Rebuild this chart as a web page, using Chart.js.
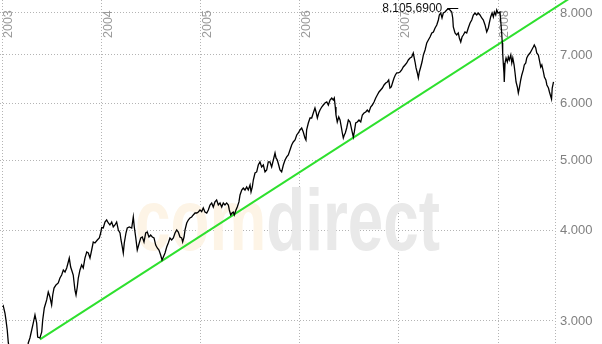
<!DOCTYPE html>
<html>
<head>
<meta charset="utf-8">
<script src="https://cdn.jsdelivr.net/npm/chart.js@4.4.0/dist/chart.umd.min.js"></script>
<style>
  html, body { margin: 0; padding: 0; background: #fff; }
</style>
</head>
<body>
<canvas id="DaxChart" width="602" height="344"></canvas>
<script>
const yearTicks = [2003, 2004, 2005, 2006, 2007, 2008];
const priceTicks = [3000, 4000, 5000, 6000, 7000, 8000];
const xRange = [2002.975, 2008.575];
const yRange = [2788, 8338];

// time = years after 1 Jan 2003, value = index close
const t2003 = [0.002, 0.008, 0.025, 0.035, 0.048, 0.059, 0.076, 0.096, 0.116, 0.136, 0.156, 0.172, 0.187, 0.197, 0.212, 0.227, 0.242, 0.252, 0.260, 0.277, 0.295, 0.311, 0.328, 0.345, 0.355, 0.378, 0.396, 0.406, 0.422, 0.446, 0.462, 0.479, 0.496, 0.507, 0.520, 0.540, 0.563, 0.580, 0.597, 0.614, 0.631, 0.648, 0.664, 0.674, 0.688, 0.698, 0.714, 0.731, 0.742, 0.755, 0.765, 0.782, 0.799, 0.815, 0.832, 0.850, 0.866, 0.883, 0.900, 0.916, 0.933, 0.957, 0.977, 0.991];
const c2003 = [3137, 3147, 3077, 3010, 2915, 2797, 2740, 2700, 2600, 2650, 2550, 2450, 2300, 2220, 2550, 2600, 2450, 2600, 2797, 2842, 2915, 2981, 3058, 2981, 2851, 2842, 2897, 3010, 3127, 3208, 3290, 3238, 3157, 3259, 3332, 3365, 3386, 3440, 3473, 3529, 3507, 3552, 3620, 3666, 3563, 3529, 3473, 3311, 3259, 3343, 3440, 3529, 3586, 3552, 3666, 3737, 3725, 3666, 3761, 3858, 3846, 3883, 3908, 3970];

const t2004 = [1.001, 1.017, 1.034, 1.051, 1.068, 1.084, 1.102, 1.118, 1.135, 1.152, 1.169, 1.186, 1.196, 1.209, 1.219, 1.229, 1.246, 1.259, 1.280, 1.304, 1.320, 1.330, 1.344, 1.360, 1.380, 1.395, 1.411, 1.428, 1.445, 1.461, 1.478, 1.495, 1.512, 1.529, 1.546, 1.562, 1.579, 1.596, 1.610, 1.623, 1.640, 1.657, 1.673, 1.690, 1.707, 1.724, 1.741, 1.758, 1.774, 1.791, 1.808, 1.818, 1.832, 1.842, 1.859, 1.875, 1.892, 1.909, 1.925, 1.943, 1.960, 1.976, 1.993];
const c2004 = [4040, 4034, 4112, 4138, 4099, 4073, 4112, 4047, 4073, 4112, 4009, 3970, 3883, 3797, 3725, 3846, 3970, 4034, 4047, 4034, 4178, 4047, 3920, 3761, 3846, 3908, 3920, 3858, 3970, 3983, 3920, 3945, 3920, 3908, 3821, 3785, 3761, 3702, 3643, 3678, 3725, 3797, 3846, 3908, 3883, 3908, 3970, 4009, 3983, 3920, 3908, 3858, 3920, 4009, 4099, 4138, 4165, 4178, 4205, 4231, 4231, 4245, 4272];

const t2005 = [2.010, 2.026, 2.043, 2.061, 2.077, 2.094, 2.111, 2.127, 2.144, 2.161, 2.178, 2.195, 2.212, 2.228, 2.245, 2.262, 2.279, 2.289, 2.303, 2.316, 2.329, 2.339, 2.356, 2.369, 2.386, 2.397, 2.414, 2.430, 2.447, 2.464, 2.480, 2.498, 2.508, 2.521, 2.531, 2.548, 2.565, 2.581, 2.598, 2.615, 2.632, 2.649, 2.666, 2.682, 2.699, 2.716, 2.733, 2.750, 2.760, 2.773, 2.787, 2.800, 2.817, 2.834, 2.851, 2.868, 2.884, 2.901, 2.918, 2.934, 2.952, 2.969, 2.985];
const c2005 = [4250, 4300, 4245, 4231, 4272, 4341, 4369, 4313, 4383, 4411, 4341, 4369, 4313, 4369, 4341, 4369, 4341, 4272, 4205, 4231, 4245, 4205, 4272, 4313, 4383, 4481, 4553, 4582, 4553, 4597, 4553, 4626, 4524, 4597, 4700, 4806, 4822, 4930, 4978, 4899, 4930, 4822, 4853, 4978, 4978, 4899, 5009, 5122, 5042, 5009, 4930, 4853, 4822, 4930, 5009, 5058, 5090, 5172, 5255, 5305, 5339, 5425, 5459];

const t2006 = [3.002, 3.019, 3.035, 3.052, 3.062, 3.069, 3.086, 3.103, 3.120, 3.136, 3.153, 3.164, 3.177, 3.191, 3.204, 3.221, 3.237, 3.254, 3.272, 3.288, 3.305, 3.322, 3.338, 3.348, 3.358, 3.365, 3.378, 3.393, 3.406, 3.419, 3.429, 3.439, 3.449, 3.459, 3.473, 3.490, 3.507, 3.524, 3.540, 3.550, 3.564, 3.580, 3.597, 3.615, 3.631, 3.648, 3.665, 3.681, 3.698, 3.715, 3.732, 3.749, 3.766, 3.782, 3.799, 3.816, 3.833, 3.850, 3.867, 3.883, 3.897, 3.910, 3.923, 3.938, 3.951, 3.964, 3.978, 3.994];
const c2006 = [5512, 5547, 5477, 5373, 5339, 5512, 5636, 5726, 5726, 5818, 5911, 5837, 5726, 5818, 5874, 5930, 5968, 6007, 6026, 5968, 6064, 6103, 6064, 6103, 5930, 5782, 5654, 5745, 5690, 5564, 5459, 5373, 5425, 5459, 5547, 5690, 5654, 5512, 5390, 5477, 5636, 5654, 5690, 5654, 5782, 5818, 5837, 5874, 5837, 5930, 5968, 6026, 6103, 6161, 6221, 6261, 6300, 6361, 6402, 6422, 6463, 6300, 6321, 6422, 6505, 6567, 6609, 6609];

const t2007 = [4.011, 4.028, 4.044, 4.062, 4.079, 4.095, 4.112, 4.129, 4.145, 4.163, 4.173, 4.186, 4.196, 4.206, 4.220, 4.233, 4.247, 4.264, 4.281, 4.297, 4.314, 4.332, 4.348, 4.365, 4.382, 4.398, 4.408, 4.422, 4.435, 4.448, 4.465, 4.482, 4.498, 4.516, 4.533, 4.543, 4.549, 4.566, 4.583, 4.599, 4.610, 4.624, 4.637, 4.650, 4.667, 4.684, 4.700, 4.718, 4.735, 4.751, 4.768, 4.785, 4.801, 4.818, 4.836, 4.852, 4.869, 4.886, 4.902, 4.912, 4.926, 4.940, 4.953, 4.963, 4.977, 4.987, 5.000];
const c2007 = [6630, 6673, 6736, 6780, 6823, 6888, 6932, 6955, 7043, 6844, 6715, 6609, 6505, 6630, 6736, 6844, 6999, 7111, 7272, 7341, 7412, 7507, 7531, 7627, 7701, 7824, 7950, 8000, 7874, 8000, 8026, 8077, 8105.69, 8077, 8026, 7874, 7652, 7507, 7459, 7507, 7388, 7294, 7412, 7459, 7531, 7507, 7627, 7749, 7824, 7950, 8000, 7950, 8000, 7950, 7874, 7824, 7701, 7531, 7627, 7749, 7900, 8000, 7900, 8026, 7950, 8077, 8000];

const t2008 = [5.020, 5.037, 5.043, 5.047, 5.053, 5.060, 5.063, 5.071, 5.081, 5.094, 5.104, 5.114, 5.129, 5.139, 5.149, 5.162, 5.172, 5.182, 5.195, 5.205, 5.215, 5.229, 5.240, 5.255, 5.265, 5.280, 5.290, 5.306, 5.323, 5.340, 5.356, 5.366, 5.381, 5.391, 5.407, 5.417, 5.431, 5.442, 5.458, 5.468, 5.483, 5.493, 5.509, 5.519, 5.534, 5.540, 5.547, 5.560];
const c2008 = [8026, 7507, 7272, 7043, 6823, 6609, 6422, 6823, 6932, 6844, 6955, 6888, 6999, 6823, 6932, 6780, 6609, 6422, 6321, 6201, 6300, 6463, 6567, 6673, 6780, 6823, 6932, 6999, 7043, 7111, 7179, 7225, 7156, 7043, 6999, 6888, 6736, 6780, 6630, 6526, 6463, 6361, 6300, 6221, 6123, 6083, 6300, 6422];

// trend line, two points
const trendT = [0.378, 5.928];
const trendV = [2830, 8738];

const times = [].concat(t2003, t2004, t2005, t2006, t2007, t2008);
const closes = [].concat(c2003, c2004, c2005, c2006, c2007, c2008);

function deNum(v, dec) {
  const parts = v.toFixed(dec).split(".");
  const intPart = parts[0].replace(/\B(?=(\d{3})+(?!\d))/g, ".");
  return dec ? intPart + "," + parts[1] : intPart;
}

const FONT = "'Liberation Sans', Arial, sans-serif";
const GRID = "#b4b4b4";

const watermark = {
  id: "watermark",
  beforeDatasetsDraw(chart) {
    const ctx = chart.ctx;
    ctx.save();
    ctx.font = "bold 88px " + FONT;
    const wCom = ctx.measureText("com").width;
    const wAll = ctx.measureText("comdirect").width;
    ctx.translate(135, 250);
    ctx.scale(305 / wAll, 1);
    ctx.fillStyle = "#fdf4e6";
    ctx.fillText("com", 0, 0);
    ctx.fillStyle = "#e9e9e9";
    ctx.fillText("direct", wCom, 0);
    ctx.restore();
  }
};

const yearLabels = {
  id: "yearLabels",
  beforeDatasetsDraw(chart) {
    const ctx = chart.ctx;
    const xs = chart.scales.x;
    ctx.save();
    ctx.font = "12.5px " + FONT;
    ctx.fillStyle = "#9a9a9a";
    ctx.textBaseline = "alphabetic";
    yearTicks.forEach(function (yr) {
      const px = xs.getPixelForValue(yr);
      ctx.save();
      ctx.translate(px + 10, chart.chartArea.top + 38);
      ctx.rotate(-Math.PI / 2);
      ctx.fillText(String(yr), 0, 0);
      ctx.restore();
    });
    ctx.restore();
  }
};

const peakMarker = {
  id: "peakMarker",
  afterDatasetsDraw(chart) {
    const ctx = chart.ctx;
    let iMax = 0;
    closes.forEach(function (v, i) { if (v > closes[iMax]) iMax = i; });
    const px = chart.scales.x.getPixelForValue(2003 + times[iMax]);
    const py = chart.scales.y.getPixelForValue(closes[iMax]);
    ctx.save();
    ctx.strokeStyle = "#000";
    ctx.lineWidth = 1;
    ctx.beginPath();
    ctx.moveTo(px - 1, Math.round(py) - 0.5);
    ctx.lineTo(px + 10, Math.round(py) - 0.5);
    ctx.stroke();
    ctx.font = "12px " + FONT;
    ctx.fillStyle = "#111";
    ctx.textAlign = "right";
    ctx.textBaseline = "middle";
    ctx.fillText(deNum(closes[iMax], 4), px - 6, py);
    ctx.restore();
  }
};

new Chart(document.getElementById("DaxChart"), {
  type: "line",
  data: {
    datasets: [
      {
        label: "DAX",
        data: closes.map(function (v, i) { return { x: 2003 + times[i], y: v }; }),
        borderColor: "#000000",
        borderWidth: 1.3,
        pointRadius: 0,
        tension: 0,
      },
      {
        label: "Trend",
        data: trendV.map(function (v, i) { return { x: 2003 + trendT[i], y: v }; }),
        borderColor: "#2ee02e",
        borderWidth: 2,
        pointRadius: 0,
        clip: false,
      },
    ],
  },
  options: {
    responsive: false,
    animation: false,
    events: [],
    layout: { padding: 0 },
    plugins: {
      legend: { display: false },
      tooltip: { enabled: false },
    },
    scales: {
      x: {
        type: "linear",
        min: xRange[0],
        max: xRange[1],
        // year lines plus the right frame line
        afterBuildTicks: function (s) { s.ticks = yearTicks.concat([xRange[1]]).map(function (v) { return { value: v }; }); },
        afterFit: function (s) { s.height = 0; s.paddingLeft = 0; s.paddingRight = 0; },
        ticks: { display: false },
        grid: { color: GRID, drawTicks: false },
        border: { display: false, dash: [1, 2] },
      },
      y: {
        type: "logarithmic",
        position: "right",
        min: yRange[0],
        max: yRange[1],
        afterBuildTicks: function (s) { s.ticks = priceTicks.map(function (v) { return { value: v }; }); },
        afterFit: function (s) { s.width = 47; s.paddingTop = 0; s.paddingBottom = 0; },
        ticks: {
          padding: 5,
          color: "#808080",
          font: { family: FONT, size: 13 },
          callback: function (v) { return deNum(v, 0); },
        },
        grid: { color: GRID, drawTicks: false },
        border: { display: false, dash: [1, 2] },
      },
    },
  },
  plugins: [watermark, yearLabels, peakMarker],
});
</script>
</body>
</html>
